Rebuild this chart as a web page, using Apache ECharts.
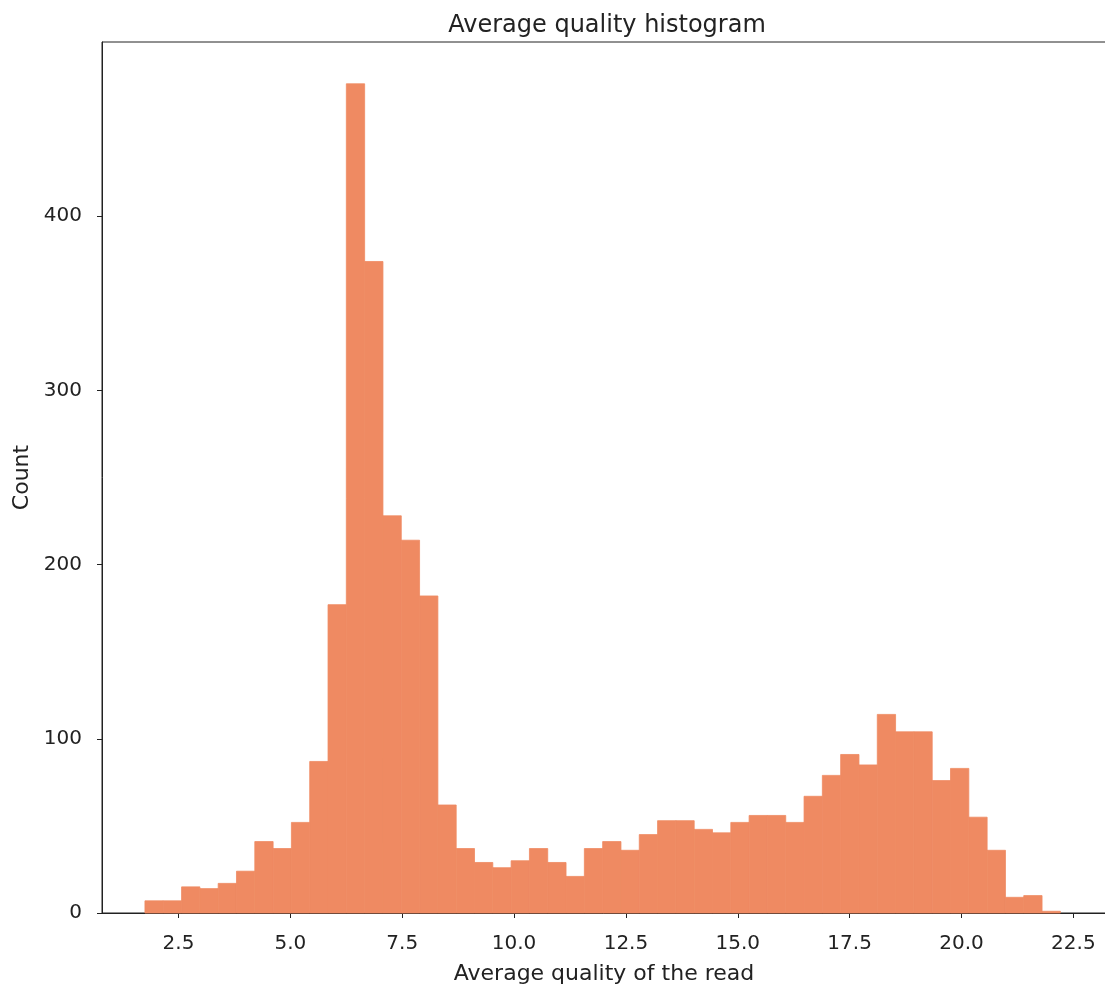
<!DOCTYPE html>
<html>
<head>
<meta charset="utf-8">
<title>Average quality histogram</title>
<script src="https://cdn.jsdelivr.net/npm/echarts@6/dist/echarts.min.js"></script>
<style>
  html, body { margin: 0; padding: 0; background: #fff; }
  #hist { width: 1105px; height: 990px; }
</style>
</head>
<body>
<div id="hist"></div>
<script>
// -----------直方图数据---------

// 50 bins between binStart and binEnd
var binStart = 1.75;
var binEnd = 22.21;
var counts = [
  7, 7, 15, 14, 17, 24, 41, 37, 52, 87,
  177, 476, 374, 228, 214, 182, 62, 37, 29, 26,
  30, 37, 29, 21, 37, 41, 36, 45, 53, 53,
  48, 46, 52, 56, 56, 52, 67, 79, 91, 85,
  114, 104, 104, 76, 83, 55, 36, 9, 10, 1
];
var xTicks = [2.5, 5.0, 7.5, 10.0, 12.5, 15.0, 17.5, 20.0, 22.5];
var yTicks = [0, 100, 200, 300, 400];

var barColor = '#ef8a62';
var inkColor = '#222';
var font = 'DejaVu Sans';

// [左边界, 右边界, 数量]
var binWidth = (binEnd - binStart) / counts.length;
var histData = counts.map(function (c, i) {
  return [binStart + i * binWidth, binStart + (i + 1) * binWidth, c];
});

function renderBin(params, api) {
  var topLeft = api.coord([api.value(0), api.value(2)]);
  var bottomRight = api.coord([api.value(1), 0]);
  return {
    type: 'rect',
    shape: {
      x: topLeft[0],
      y: topLeft[1],
      width: bottomRight[0] - topLeft[0],
      height: bottomRight[1] - topLeft[1]
    },
    // same-colour stroke hides the seams between neighbouring bins
    style: { fill: barColor, stroke: barColor, lineWidth: 0.8 }
  };
}

var chart = echarts.init(document.getElementById('hist'));

var option = {
  backgroundColor: '#fff',
  animation: false,
  textStyle: { fontFamily: font },
  title: {
    text: 'Average quality histogram',
    left: 602,
    textAlign: 'center',
    top: 9,
    textStyle: { fontFamily: font, fontSize: 24, fontWeight: 'normal', color: inkColor }
  },
  grid: {
    left: 102,
    top: 42,
    width: 1004,
    height: 871,
    show: true,
    borderColor: inkColor,
    borderWidth: 1,
    containLabel: false,
    outerBoundsMode: 'none'
  },
  xAxis: {
    type: 'value',
    min: 0.79,
    max: 23.23,
    name: 'Average quality of the read',
    nameLocation: 'middle',
    nameGap: 50,
    nameTextStyle: { fontFamily: font, fontSize: 22, color: inkColor },
    axisLine: { show: true, lineStyle: { color: inkColor, width: 1 } },
    axisTick: { show: true, length: 5, lineStyle: { color: inkColor }, customValues: xTicks },
    axisLabel: {
      customValues: xTicks,
      margin: 21,
      fontFamily: font,
      fontSize: 20,
      color: inkColor,
      formatter: function (v) { return v.toFixed(1); }
    },
    splitLine: { show: false }
  },
  yAxis: {
    type: 'value',
    min: 0,
    max: 500,
    name: 'Count',
    nameLocation: 'middle',
    nameGap: 68,
    nameTextStyle: { fontFamily: font, fontSize: 22, color: inkColor },
    axisLine: { show: true, lineStyle: { color: inkColor, width: 1 } },
    axisTick: { show: true, length: 5, lineStyle: { color: inkColor }, customValues: yTicks },
    axisLabel: {
      customValues: yTicks,
      margin: 20,
      fontFamily: font,
      fontSize: 20,
      color: inkColor
    },
    splitLine: { show: false }
  },
  series: [{
    name: 'Count',
    type: 'custom',
    renderItem: renderBin,
    encode: { x: [0, 1], y: 2 },
    data: histData
  }]
};

chart.setOption(option);
</script>
</body>
</html>
